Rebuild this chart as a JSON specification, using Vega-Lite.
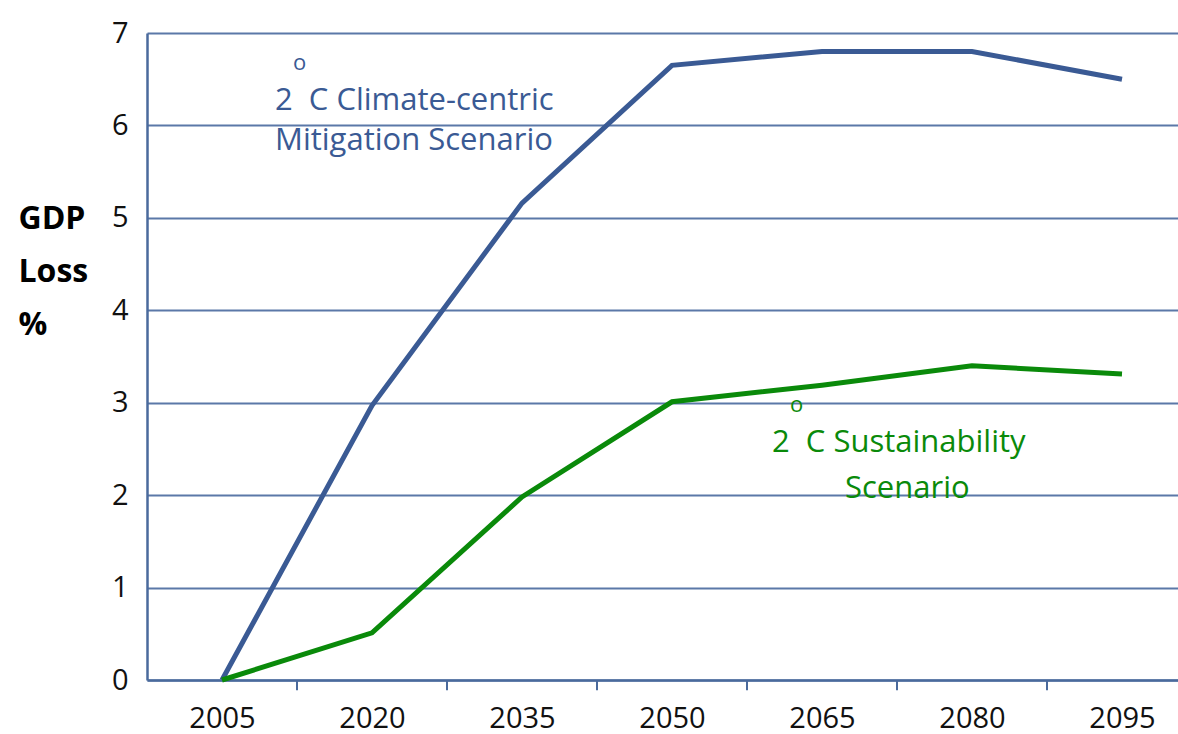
{
  "$schema": "https://vega.github.io/schema/vega-lite/v6.json",
  "width": 1031,
  "height": 647,
  "autosize": "none",
  "padding": {"left": 147, "top": 33, "right": 0, "bottom": 54},
  "background": "white",
  "config": {"view": {"stroke": null}, "font": "Open Sans"},
  "datasets": {
    "lines": [
      {"year": 2005, "loss": 0, "scenario": "Climate-centric"},
      {"year": 2020, "loss": 2.97, "scenario": "Climate-centric"},
      {"year": 2035, "loss": 5.16, "scenario": "Climate-centric"},
      {"year": 2050, "loss": 6.65, "scenario": "Climate-centric"},
      {"year": 2065, "loss": 6.8, "scenario": "Climate-centric"},
      {"year": 2080, "loss": 6.8, "scenario": "Climate-centric"},
      {"year": 2095, "loss": 6.5, "scenario": "Climate-centric"},
      {"year": 2005, "loss": 0, "scenario": "Sustainability"},
      {"year": 2020, "loss": 0.51, "scenario": "Sustainability"},
      {"year": 2035, "loss": 1.98, "scenario": "Sustainability"},
      {"year": 2050, "loss": 3.01, "scenario": "Sustainability"},
      {"year": 2065, "loss": 3.19, "scenario": "Sustainability"},
      {"year": 2080, "loss": 3.4, "scenario": "Sustainability"},
      {"year": 2095, "loss": 3.31, "scenario": "Sustainability"}
    ],
    "labels": [
      {"year": 2010.3, "loss": 6.167, "text": "2\u00a0\u00a0C Climate-centric", "scenario": "Climate-centric", "size": 31},
      {"year": 2010.3, "loss": 5.734, "text": "Mitigation Scenario", "scenario": "Climate-centric", "size": 31},
      {"year": 2012.1, "loss": 6.6, "text": "o", "scenario": "Climate-centric", "size": 22},
      {"year": 2060.0, "loss": 2.467, "text": "2\u00a0\u00a0C Sustainability", "scenario": "Sustainability", "size": 31},
      {"year": 2067.3, "loss": 1.969, "text": "Scenario", "scenario": "Sustainability", "size": 31},
      {"year": 2061.8, "loss": 2.9, "text": "o", "scenario": "Sustainability", "size": 22}
    ]
  },
  "layer": [
    {
      "data": {"name": "lines"},
      "mark": {"type": "line", "strokeWidth": 5, "strokeJoin": "miter"},
      "encoding": {
        "x": {
          "field": "year", "type": "quantitative",
          "scale": {"domain": [1997.5, 2100.6], "nice": false, "zero": false},
          "axis": {
            "values": [2005, 2020, 2035, 2050, 2065, 2080, 2095],
            "ticks": false, "tickSize": 0, "grid": false, "domain": true,
            "domainColor": "#4A6A9C", "domainWidth": 2.5,
            "labelFont": "Open Sans", "labelFontSize": 29, "labelColor": "#111111",
            "labelBaseline": "alphabetic",
            "labelPadding": 47, "labelFlush": false, "format": "d", "title": null
          }
        },
        "y": {
          "field": "loss", "type": "quantitative",
          "scale": {"domain": [0, 7], "nice": false},
          "axis": {
            "values": [0, 1, 2, 3, 4, 5, 6, 7],
            "format": "d",
            "ticks": false, "tickSize": 0, "grid": true, "gridColor": "#5B78A8", "gridWidth": 2,
            "domain": true, "domainColor": "#4A6A9C", "domainWidth": 2.5,
            "labelFont": "Open Sans", "labelFontSize": 29, "labelColor": "#111111",
            "labelPadding": 19,
            "title": ["GDP", "Loss", "%"],
            "titleAngle": 0, "titleAlign": "left", "titleBaseline": "alphabetic",
            "titleX": -129, "titleY": 195, "titleLineHeight": 53,
            "titleFont": "Open Sans", "titleFontSize": 32, "titleFontWeight": "bold",
            "titleColor": "#000000"
          }
        },
        "color": {
          "field": "scenario", "type": "nominal",
          "scale": {"domain": ["Climate-centric", "Sustainability"], "range": ["#3A5A94", "#0A8A0A"]},
          "legend": null
        }
      }
    },
    {
      "data": {"values": [{"year": 2012.5}, {"year": 2027.5}, {"year": 2042.5}, {"year": 2057.5}, {"year": 2072.5}, {"year": 2087.5}]},
      "mark": {"type": "rule", "color": "#4A6A9C", "strokeWidth": 2},
      "encoding": {
        "x": {"field": "year", "type": "quantitative"},
        "y": {"datum": 0},
        "y2": {"datum": -0.11}
      }
    },
    {
      "data": {"name": "labels"},
      "mark": {"type": "text", "align": "left", "baseline": "alphabetic", "font": "Open Sans"},
      "encoding": {
        "x": {"field": "year", "type": "quantitative"},
        "y": {"field": "loss", "type": "quantitative"},
        "text": {"field": "text"},
        "size": {"field": "size", "type": "quantitative", "scale": null},
        "color": {"field": "scenario", "type": "nominal", "legend": null}
      }
    }
  ]
}
